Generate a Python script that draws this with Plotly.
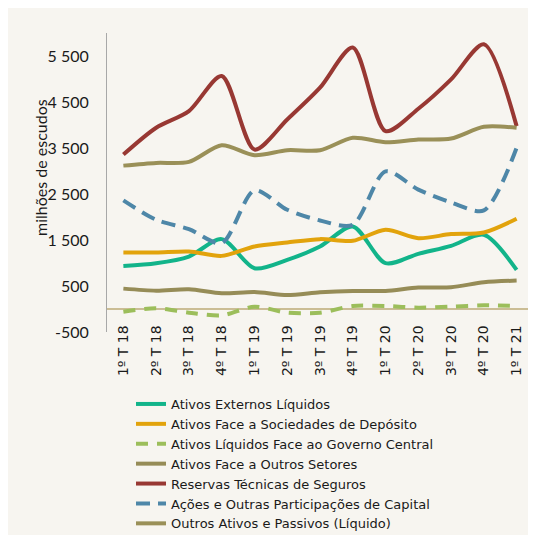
import plotly.graph_objects as go

categories = ["1º T 18", "2º T 18", "3º T 18", "4º T 18",
              "1º T 19", "2º T 19", "3º T 19", "4º T 19",
              "1º T 20", "2º T 20", "3º T 20", "4º T 20", "1º T 21"]

ativos_externos = [937, 996, 1141, 1519, 886, 1068, 1359, 1795, 996, 1199, 1373, 1613, 850]
ativos_sociedades = [1228, 1228, 1250, 1155, 1359, 1446, 1519, 1482, 1722, 1540, 1628, 1664, 1962]
ativos_governo = [-58, 15, -80, -138, 51, -80, -80, 65, 65, 29, 51, 80, 65]
ativos_outros_setores = [443, 399, 428, 341, 370, 305, 363, 392, 392, 465, 472, 581, 617]
reservas_tecnicas = [3357, 3940, 4302, 5065, 3466, 4120, 4811, 5683, 3866, 4353, 4992, 5755, 3975]
acoes_participacoes = [2361, 1940, 1737, 1432, 2579, 2158, 1925, 1831, 2993, 2594, 2317, 2143, 3503]
outros_ativos_passivos = [3117, 3176, 3198, 3561, 3343, 3452, 3452, 3721, 3626, 3684, 3706, 3960, 3939]

y_tickvals = [-500, 500, 1500, 2500, 3500, 4500, 5500]
y_ticktext = ["-500", "500", "1 500", "2 500", "3 500", "4 500", "5 500"]

series = [
    ("Ativos Externos Líquidos", ativos_externos, "#12B48A", "solid"),
    ("Ativos Face a Sociedades de Depósito", ativos_sociedades, "#E2A30C", "solid"),
    ("Ativos Líquidos Face ao Governo Central", ativos_governo, "#9CBE5B", "12px,9px"),
    ("Ativos Face a Outros Setores", ativos_outros_setores, "#968C57", "solid"),
    ("Reservas Técnicas de Seguros", reservas_tecnicas, "#983833", "solid"),
    ("Ações e Outras Participações de Capital", acoes_participacoes, "#4E87A8", "14px,8px"),
    ("Outros Ativos e Passivos (Líquido)", outros_ativos_passivos, "#9A9058", "solid"),
]

fig = go.Figure()
for name, vals, color, dash in series:
    fig.add_trace(go.Scatter(
        x=categories, y=vals, name=name, mode="lines",
        line=dict(color=color, width=4, dash=dash, shape="spline", smoothing=0.8),
    ))

# page body has an 8px margin; figure coordinates = screen - 8
W, H = 528, 527
L, R, T, B = 99, 3, 25, 203
pw = W - L - R
ph = H - T - B

def px_x(x):
    return (x - L) / pw

def px_y(y):
    return (H - B - y) / ph

fig.update_layout(
    width=W, height=H,
    margin=dict(l=L, r=R, t=T, b=B, autoexpand=False),
    paper_bgcolor="#F7F5F0",
    plot_bgcolor="rgba(0,0,0,0)",
    font=dict(family="Lato", color="#1a1a1a"),
    showlegend=True,
    legend=dict(
        x=px_x(123), y=px_y(381), xanchor="left", yanchor="top",
        font=dict(family="DejaVu Sans", size=13, color="#1a1a1a"),
        bgcolor="rgba(0,0,0,0)", tracegroupgap=0,
    ),
    annotations=[dict(
        text="milhões de escudos", xref="paper", yref="paper",
        x=px_x(32), y=px_y(160), textangle=-90, showarrow=False,
        font=dict(family="Lato", size=16, color="#1a1a1a"),
        xanchor="center", yanchor="middle",
    )],
)

fig.update_xaxes(
    type="category", range=[-0.5, len(categories) - 0.5],
    tickangle=-90, showgrid=False, showline=False,
    ticks="", tickfont=dict(family="DejaVu Sans", size=14, color="#1a1a1a"),
    zeroline=False, automargin=False, anchor="free", position=0.035,
)
fig.update_yaxes(
    range=[-500, 6000], tickvals=y_tickvals, ticktext=y_ticktext,
    showgrid=False, showline=True, linecolor="#A8A8A8", linewidth=1,
    ticks="outside", ticklen=14, tickcolor="rgba(0,0,0,0)",
    tickfont=dict(family="Lato", size=16, color="#1a1a1a"),
    zeroline=True, zerolinecolor="#CBBD95", zerolinewidth=1.5, automargin=False,
)

fig.write_html("out.html")
